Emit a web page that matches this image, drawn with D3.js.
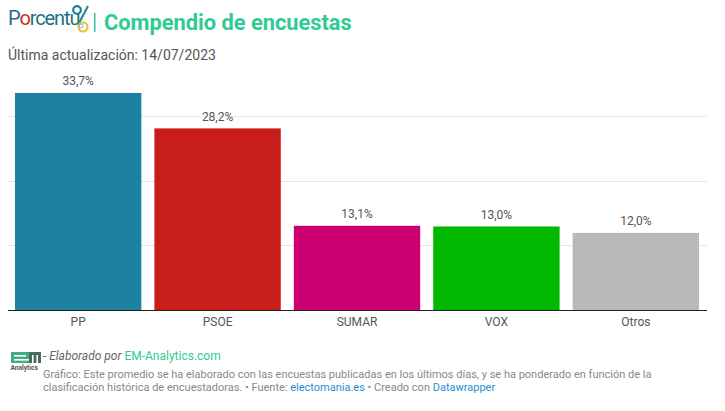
<!DOCTYPE html>
<html>
<head>
<meta charset="utf-8">
<script src="https://cdn.jsdelivr.net/npm/d3@7"></script>
<style>
  html, body { margin: 0; padding: 0; background: #fff; }
  text { font-family: Roboto, sans-serif; }
</style>
</head>
<body>
<div id="chart-area"></div>
<script>
const categories = ["PP", "PSOE", "SUMAR", "VOX", "Otros"];
const values = [33.7, 28.2, 13.1, 13.0, 12.0];
const valueLabels = ["33,7%", "28,2%", "13,1%", "13,0%", "12,0%"];
const barColors = ["#1d81a2", "#c91d1b", "#cc0072", "#00b800", "#b9b9b9"];
const gridTicks = [10, 20, 30];

const svg = d3.select("#chart-area").append("svg")
  .attr("width", 725)
  .attr("height", 411)
  .style("display", "block");

// Scales
const xScale = d3.scaleBand()
  .domain(categories)
  .range([8, 706])
  .paddingInner(0.0935)
  .paddingOuter(0.05);

const yScale = d3.scaleLinear()
  .domain([0, 30])
  .range([310.3, 116.8]);

// Gridlines
svg.selectAll("line.grid").data(gridTicks).enter().append("line")
  .attr("class", "grid")
  .attr("x1", 8).attr("x2", 707)
  .attr("y1", d => Math.floor(yScale(d)) + 0.5).attr("y2", d => Math.floor(yScale(d)) + 0.5)
  .attr("stroke", "#e6e6e6");

// Bars
svg.selectAll("rect.bar").data(values).enter().append("rect")
  .attr("class", "bar")
  .attr("x", (d, i) => xScale(categories[i]))
  .attr("width", xScale.bandwidth())
  .attr("y", d => yScale(d))
  .attr("height", d => yScale(0) - yScale(d))
  .attr("fill", (d, i) => barColors[i]);

// Value labels
svg.selectAll("text.value").data(values).enter().append("text")
  .attr("class", "value")
  .attr("x", (d, i) => xScale(categories[i]) + xScale.bandwidth() / 2)
  .attr("y", d => yScale(d) - 7.5)
  .attr("text-anchor", "middle")
  .attr("font-size", 12)
  .attr("fill", "#555")
  .text((d, i) => valueLabels[i]);

// X axis
const xAxis = svg.append("g")
  .attr("transform", "translate(0,310)")
  .call(d3.axisBottom(xScale).tickSize(0).tickPadding(7));
xAxis.select(".domain").remove();
xAxis.selectAll("text")
  .attr("font-size", 12)
  .attr("font-family", "Roboto, sans-serif")
  .attr("fill", "#555");
svg.append("line")
  .attr("x1", 8).attr("x2", 707)
  .attr("y1", 310.5).attr("y2", 310.5)
  .attr("stroke", "#222");

// Header: logo
const logo = svg.append("text")
  .attr("x", 8).attr("y", 25)
  .attr("font-size", 20)
  .attr("letter-spacing", -1.1)
  .attr("fill", "#1f6f80");
logo.append("tspan").text("P");
logo.append("tspan").attr("fill", "#c9302c").text("o");
logo.append("tspan").text("rcentu");

const logoMark = svg.append("g").attr("fill", "none").attr("stroke-width", 2.2);
logoMark.append("circle").attr("cx", 77).attr("cy", 10).attr("r", 3.8).attr("stroke", "#1f7f95");
logoMark.append("path").attr("d", "M88 6 L78 25").attr("stroke", "#2a8f95");
logoMark.append("circle").attr("cx", 83).attr("cy", 27).attr("r", 4.5).attr("stroke", "#ecc22c");
logoMark.append("circle").attr("cx", 81).attr("cy", 26).attr("r", 2).attr("stroke", "#6cb6e0").attr("stroke-width", 1);

// Header: title
svg.append("rect").attr("x", 94).attr("y", 13).attr("width", 1.5).attr("height", 19).attr("fill", "#2fcb92");
svg.append("text")
  .attr("x", 104).attr("y", 29.5)
  .attr("font-size", 21.8)
  .attr("font-weight", 700)
  .attr("fill", "#2fcb92")
  .text("Compendio de encuestas");

svg.append("text")
  .attr("x", 8).attr("y", 60)
  .attr("font-size", 14)
  .attr("fill", "#555")
  .text("Última actualización: 14/07/2023");

// Footer: EM logo
const em = svg.append("g");
em.append("rect").attr("x", 11).attr("y", 352).attr("width", 18).attr("height", 11).attr("fill", "#3fae80");
em.append("rect").attr("x", 14).attr("y", 355).attr("width", 12).attr("height", 1.6).attr("fill", "#fff");
em.append("rect").attr("x", 14).attr("y", 359).attr("width", 15).attr("height", 1.6).attr("fill", "#fff");
em.append("rect").attr("x", 29).attr("y", 352).attr("width", 12).attr("height", 11).attr("fill", "#4c6a60");
em.append("rect").attr("x", 32).attr("y", 355).attr("width", 1.6).attr("height", 8).attr("fill", "#fff");
em.append("rect").attr("x", 36.4).attr("y", 355).attr("width", 1.6).attr("height", 8).attr("fill", "#fff");
em.append("text")
  .attr("x", 10.5).attr("y", 369.5)
  .attr("font-size", 6.6)
  .attr("font-weight", 700)
  .attr("fill", "#555")
  .text("Analytics");

const credit = svg.append("text")
  .attr("x", 43).attr("y", 360)
  .attr("font-size", 12)
  .attr("fill", "#666");
credit.append("tspan").attr("font-style", "italic").text("- Elaborado por ");
credit.append("tspan").attr("fill", "#2fcb92").text("EM-Analytics.com");

svg.append("text")
  .attr("x", 43).attr("y", 378)
  .attr("font-size", 11)
  .attr("fill", "#888")
  .text("Gráfico: Este promedio se ha elaborado con las encuestas publicadas en los últimos días, y se ha ponderado en función de la");

const source = svg.append("text")
  .attr("x", 43).attr("y", 391)
  .attr("font-size", 11)
  .attr("fill", "#888");
source.append("tspan").text("clasificación histórica de encuestadoras. • Fuente: ");
source.append("tspan").attr("fill", "#1d8fd1").text("electomania.es");
source.append("tspan").text(" • Creado con ");
source.append("tspan").attr("fill", "#1d8fd1").text("Datawrapper");
</script>
</body>
</html>
